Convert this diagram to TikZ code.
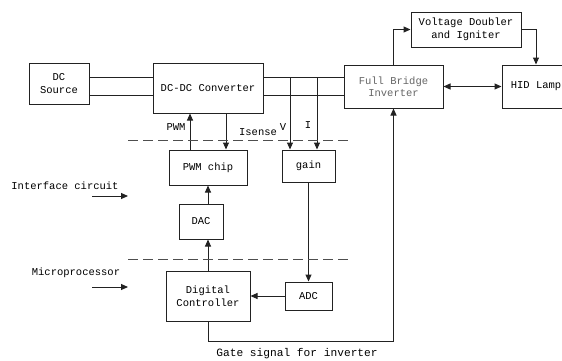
\documentclass[tikz,border=0pt]{standalone}
\usepackage{fontspec}
\setmonofont{Liberation Mono}
\usepackage{tikz}
\usetikzlibrary{arrows.meta, positioning, calc}
\definecolor{linegray}{HTML}{222222}
\definecolor{textgray}{HTML}{666666}
\tikzset{
    blk/.style={rectangle, draw=linegray, line width=1pt, fill=white, align=center, inner sep=1pt,
        font=\ttfamily\fontsize{10.5}{12.5}\selectfont},
    lbl/.style={font=\ttfamily\fontsize{10.5}{12.5}\selectfont, inner sep=0pt},
    arr/.style={-{Triangle[length=7pt, width=6pt]}, line width=1pt, draw=linegray},
    dblarr/.style={{Triangle[length=7pt, width=6pt]}-{Triangle[length=7pt, width=6pt]}, line width=1pt, draw=linegray},
    bus/.style={line width=1pt, draw=linegray},
    sepline/.style={line width=1pt, draw=linegray!80, dash pattern=on 10pt off 5pt}
}
\begin{document}
\begin{tikzpicture}[x=1pt, y=-1pt]
    \clip (0,0) rectangle (562,360);
    % power stage
    \node[blk, minimum width=60pt, minimum height=41pt] (src) at (59,83.5) {DC\\Source};
    \node[blk, minimum width=110pt, minimum height=50pt] (conv) at (208,88) {DC-DC Converter};
    \node[blk, minimum width=99pt, minimum height=43pt, text=textgray] (bridge) at (393.5,86.5) {Full Bridge\\Inverter};
    \node[blk, minimum width=110pt, minimum height=35pt] (doubler) at (466,29.5) {Voltage Doubler\\and Igniter};
    \node[blk, minimum width=68pt, minimum height=43pt] (lamp) at (536,86.5) {HID Lamp};
    % interface and control
    \node[blk, minimum width=78pt, minimum height=35pt] (pwmchip) at (208,167.5) {PWM chip};
    \node[blk, minimum width=53pt, minimum height=32pt] (gain) at (308.5,166) {gain};
    \node[blk, minimum width=44pt, minimum height=35pt] (dac) at (201,221.5) {DAC};
    \node[blk, minimum width=84pt, minimum height=50pt] (ctrl) at (208,296) {Digital\\Controller};
    \node[blk, minimum width=47pt, minimum height=28pt] (adc) at (308.5,296) {ADC};

    % dc buses
    \foreach \yb in {77.5,95.5} {
        \draw[bus] (src.east |- 0,\yb) -- (conv.west |- 0,\yb);
        \draw[bus] (conv.east |- 0,\yb) -- (bridge.west |- 0,\yb);
    }
    \coordinate (vtap) at (290,77.5);
    \coordinate (itap) at (317,77.5);
    \draw[arr] (vtap) -- (vtap |- gain.north);
    \draw[arr] (itap) -- (itap |- gain.north);

    % converter <-> pwm chip
    \draw[arr] ([xshift=-18pt]pwmchip.north) -- ([xshift=-18pt]pwmchip.north |- conv.south);
    \draw[arr] ([xshift=18pt]conv.south) -- ([xshift=18pt]conv.south |- pwmchip.north);
    \draw[arr] (dac.north -| pwmchip.south) -- (pwmchip.south);
    \draw[arr] (ctrl.north) -- (ctrl.north |- dac.south);
    \draw[arr] (gain.south) -- (adc.north);
    \draw[arr] (adc.west) -- (adc.west -| ctrl.east);

    % inverter side
    \draw[arr] (bridge.north) |- (doubler.west);
    \draw[arr] (doubler.east) -| (lamp.north);
    \draw[dblarr] (bridge.east) -- (lamp.west);
    \coordinate (gatebend) at (208,341);
    \draw[arr] (ctrl.south) -- (gatebend) -| (bridge.south);

    % boundaries
    \draw[sepline] (128,140) -- (348,140);
    \draw[sepline] (128,259) -- (348,259);
    \coordinate (ifa) at (92,196);
    \coordinate (mpa) at (92,287);
    \draw[arr] (ifa) -- ++(36,0);
    \draw[arr] (mpa) -- ++(36,0);

    % labels
    \node[lbl] (pwmlbl) at (176,127) {PWM};
    \node[lbl] (isenselbl) at (258,132) {Isense};
    \node[lbl] (vlbl) at (283,127) {V};
    \node[lbl] (ilbl) at (308,125) {I};
    \node[lbl] (iflbl) at (65,186) {Interface circuit};
    \node[lbl] (mplbl) at (76,273) {Microprocessor};
    \node[lbl, font=\ttfamily\fontsize{11.2}{13}\selectfont] (gatelbl) at (297,354) {Gate signal for inverter};
\end{tikzpicture}
\end{document}
